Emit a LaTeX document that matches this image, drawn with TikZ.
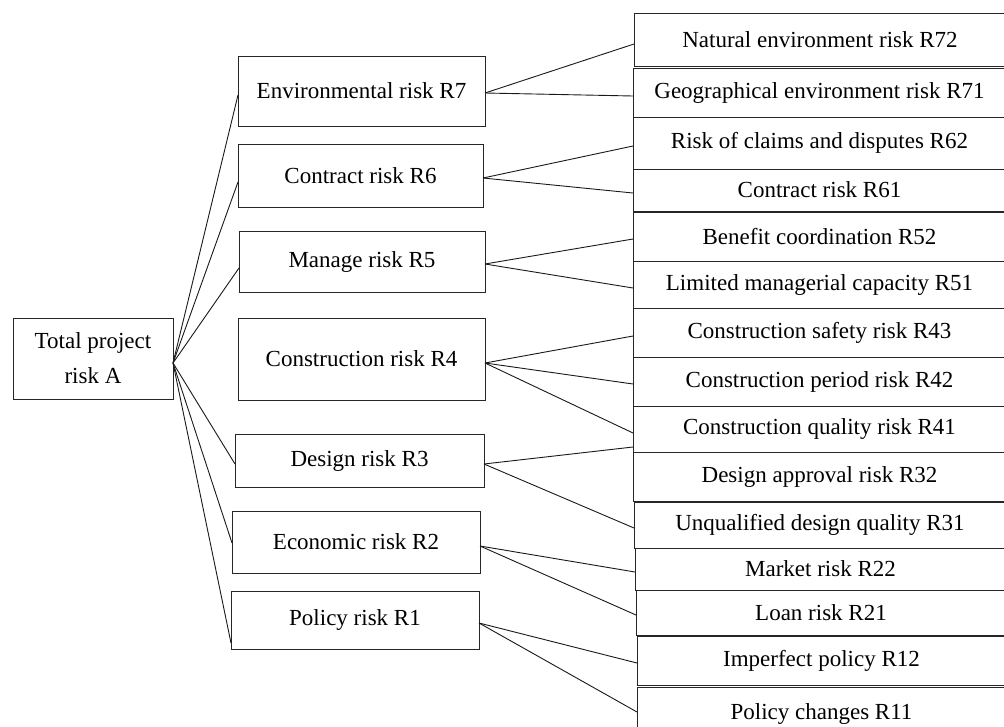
\documentclass[tikz,border=0pt]{standalone}
\usepackage{fontspec}
\setmainfont{Liberation Serif}
\begin{document}
\begin{tikzpicture}[x=1pt,y=-1pt,
  box/.style={draw=black!85,line width=1pt,inner sep=0pt,outer sep=0pt,anchor=north west,align=center,
    font=\fontsize{23}{35}\selectfont},
  link/.style={draw=black!90,line width=0.9pt}]
\useasboundingbox (0,0) rectangle (1004,726);
\clip (0,0) rectangle (1004,726);
% box helper: position, size
\newcommand{\bx}[6]{\node[box,minimum width=#4-#2,minimum height=#5-#3] (#1) at (#2,#3) {#6};}
\bx{A}{13}{318}{173}{399}{Total project\\risk A}
\bx{r7}{238}{56}{485}{126}{Environmental risk R7}
\bx{r6}{238}{144}{483}{207}{Contract risk R6}
\bx{r5}{239}{231}{485}{292}{Manage risk R5}
\bx{r4}{238}{318}{485}{400}{Construction risk R4}
\bx{r3}{235}{434}{484}{487}{Design risk R3}
\bx{r2}{232}{511}{480}{573}{Economic risk R2}
\bx{r1}{231}{591}{479}{649}{Policy risk R1}
\bx{r72}{634}{13}{1006}{66}{Natural environment risk R72}
\bx{r71}{633}{68}{1006}{117}{Geographical environment risk R71}
\bx{r62}{633}{117}{1006}{169}{Risk of claims and disputes R62}
\bx{r61}{633}{169}{1006}{211}{Contract risk R61}
\bx{r52}{633}{212}{1006}{261}{Benefit coordination R52}
\bx{r51}{633}{261}{1006}{308}{Limited managerial capacity R51}
\bx{r43}{633}{308}{1006}{357}{Construction safety risk R43}
\bx{r42}{633}{357}{1006}{406}{Construction period risk R42}
\bx{r41}{633}{406}{1006}{452}{Construction quality risk R41}
\bx{r32}{633}{452}{1006}{501}{Design approval risk R32}
\bx{r31}{634}{502}{1006}{548}{Unqualified design quality R31}
\bx{r22}{635}{548}{1006}{590}{Market risk R22}
\bx{r21}{636}{590}{1006}{635}{Loan risk R21}
\bx{r12}{637}{636}{1006}{685}{Imperfect policy R12}
\bx{r11}{637}{687}{1006}{740}{Policy changes R11}
% links from A
\coordinate (a0) at ([yshift=-4.5pt]A.east);
\draw[link] (a0) -- ([yshift=-4pt]r7.west);
\draw[link] (a0) -- ([yshift=-6.5pt]r6.west);
\draw[link] (a0) -- ([yshift=-6.5pt]r5.west);
\draw[link] (a0) -- ([yshift=-3.5pt]r3.west);
\draw[link] (a0) -- ([yshift=-1pt]r2.west);
\draw[link] (a0) -- ([yshift=-23pt]r1.west);
% second level
\draw[link] ([yshift=-2pt]r7.east) -- ([yshift=-4.5pt]r72.west);
\draw[link] ([yshift=-2pt]r7.east) -- ([yshift=-3.5pt]r71.west);
\draw[link] ([yshift=-2.5pt]r6.east) -- ([yshift=-3pt]r62.west);
\draw[link] ([yshift=-2.5pt]r6.east) -- ([yshift=-3pt]r61.west);
\draw[link] ([yshift=-2.5pt]r5.east) -- ([yshift=-2.5pt]r52.west);
\draw[link] ([yshift=-2.5pt]r5.east) -- ([yshift=-3.5pt]r51.west);
\draw[link] ([yshift=-4pt]r4.east) -- ([yshift=-3.5pt]r43.west);
\draw[link] ([yshift=-4pt]r4.east) -- ([yshift=-2.5pt]r42.west);
\draw[link] ([yshift=-4pt]r4.east) -- ([yshift=-4pt]r41.west);
\draw[link] ([yshift=-3.5pt]r3.east) -- ([yshift=-18pt]r41.west);
\draw[link] ([yshift=-3.5pt]r3.east) -- ([yshift=-3pt]r31.west);
\draw[link] ([yshift=-4pt]r2.east) -- ([yshift=-3pt]r22.west);
\draw[link] ([yshift=-4pt]r2.east) -- ([yshift=-2.5pt]r21.west);
\draw[link] ([yshift=-3pt]r1.east) -- ([yshift=-2.5pt]r12.west);
\draw[link] ([yshift=-3pt]r1.east) -- ([yshift=1.5pt]r11.west);
\end{tikzpicture}
\end{document}
